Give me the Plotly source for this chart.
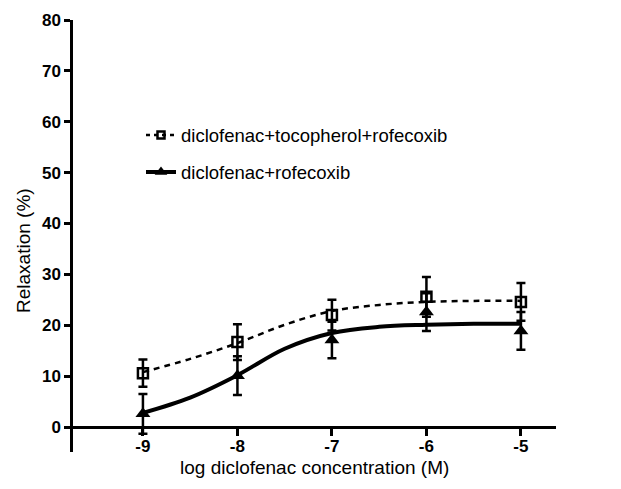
import plotly.graph_objects as go

# ---- data ----
log_conc = [-9, -8, -7, -6, -5]
toco_mean = [10.6, 16.7, 22.0, 25.6, 24.6]
toco_err = [2.7, 3.5, 3.0, 3.9, 3.7]
rofe_mean = [2.6, 10.1, 17.1, 22.6, 18.9]
rofe_err = [3.9, 3.8, 3.6, 3.7, 3.7]

curve_x = [-9, -8.5, -8, -7.5, -7, -6.5, -6, -5.5, -5]
toco_curve = [10.8, 13.4, 16.5, 20.1, 22.8, 24.0, 24.6, 24.8, 24.8]
rofe_curve = [2.8, 5.8, 10.2, 15.4, 18.5, 19.7, 20.1, 20.3, 20.3]

x_ticks = [-9, -8, -7, -6, -5]
y_ticks = [0, 10, 20, 30, 40, 50, 60, 70, 80]

name_toco = "diclofenac+tocopherol+rofecoxib"
name_rofe = "diclofenac+rofecoxib"
x_title = "log diclofenac concentration (M)"
y_title = "Relaxation (%)"

FONT = "Liberation Sans, Arial, sans-serif"
W, H = 621, 489
ML, MT = 65, 12
PW, PH = 483, 432
MR = W - ML - PW
MB = H - MT - PH
Y_LO = -4.9
X_LO = -9.74
X_PER_PX = 1 / 94.5

fig = go.Figure()

# fitted curves
fig.add_trace(go.Scatter(x=curve_x, y=toco_curve, mode="lines", line_shape="spline",
                         line=dict(color="black", width=2.5, dash="6px,5px"),
                         showlegend=False, hoverinfo="skip"))
fig.add_trace(go.Scatter(x=curve_x, y=rofe_curve, mode="lines", line_shape="spline",
                         line=dict(color="black", width=4),
                         showlegend=False, hoverinfo="skip"))

# points with error bars
fig.add_trace(go.Scatter(x=log_conc, y=toco_mean, mode="markers",
                         marker=dict(symbol="square-open", size=10, color="black",
                                     line=dict(width=2.5, color="black")),
                         error_y=dict(type="data", array=toco_err, color="black",
                                      thickness=2.5, width=4.5),
                         showlegend=False))
fig.add_trace(go.Scatter(x=log_conc, y=rofe_mean, mode="markers",
                         marker=dict(symbol="triangle-up", size=13, color="black"),
                         error_y=dict(type="data", array=rofe_err, color="black",
                                      thickness=2.5, width=4.5),
                         showlegend=False))

# legend entries
fig.add_trace(go.Scatter(x=[None], y=[None], mode="lines+markers", name=name_toco,
                         line=dict(color="black", width=2.5, dash="4px,4px"),
                         marker=dict(symbol="square-open", size=7, color="black",
                                     line=dict(width=2.5, color="black")),
                         legend="legend"))
fig.add_trace(go.Scatter(x=[None], y=[None], mode="lines+markers", name=name_rofe,
                         line=dict(color="black", width=4),
                         marker=dict(symbol="triangle-up", size=11, color="black"),
                         legend="legend2"))

def px_x(p):
    return (p - ML) / PW

def px_y(p):
    return (H - MB - p) / PH

leg_common = dict(font=dict(family=FONT, size=18.5, color="black"),
                  bgcolor="rgba(0,0,0,0)", xanchor="left", yanchor="middle",
                  itemwidth=30, borderwidth=0)

fig.update_layout(
    width=W, height=H,
    margin=dict(l=ML, r=MR, t=MT, b=MB, pad=0),
    paper_bgcolor="white", plot_bgcolor="white",
    font=dict(family=FONT, color="black"),
    legend=dict(x=px_x(133), y=px_y(127.5), **leg_common),
    legend2=dict(x=px_x(133), y=px_y(164.5), **leg_common),
    xaxis=dict(range=[X_LO, X_LO + PW * X_PER_PX], tickvals=x_ticks,
               ticktext=[f"<b>{t}</b>" for t in x_ticks],
               anchor="free", position=(0 - Y_LO) / (80 - Y_LO),
               showline=True, linecolor="black", linewidth=2.5,
               ticks="outside", ticklen=7, tickwidth=2.5, tickcolor="black",
               ticklabelstandoff=-4,
               tickfont=dict(family=FONT, size=17, color="black"),
               showgrid=False, zeroline=False, automargin=False),
    yaxis=dict(range=[Y_LO, 80], tickvals=y_ticks,
               ticktext=[f"<b>{t}</b>" for t in y_ticks],
               showline=True, linecolor="black", linewidth=2.5,
               ticks="outside", ticklen=6, tickwidth=2.5, tickcolor="black",
               tickfont=dict(family=FONT, size=17, color="black"),
               showgrid=False, zeroline=False, automargin=False),
    annotations=[
        dict(text=x_title, xref="paper", yref="paper", x=px_x(306), y=px_y(459),
             xanchor="center", yanchor="middle", showarrow=False,
             font=dict(family=FONT, size=19, color="black")),
        dict(text=y_title, xref="paper", yref="paper", x=px_x(15), y=px_y(243),
             xanchor="center", yanchor="middle", showarrow=False, textangle=-90,
             font=dict(family=FONT, size=19, color="black")),
    ],
)

fig.write_html("out.html")
